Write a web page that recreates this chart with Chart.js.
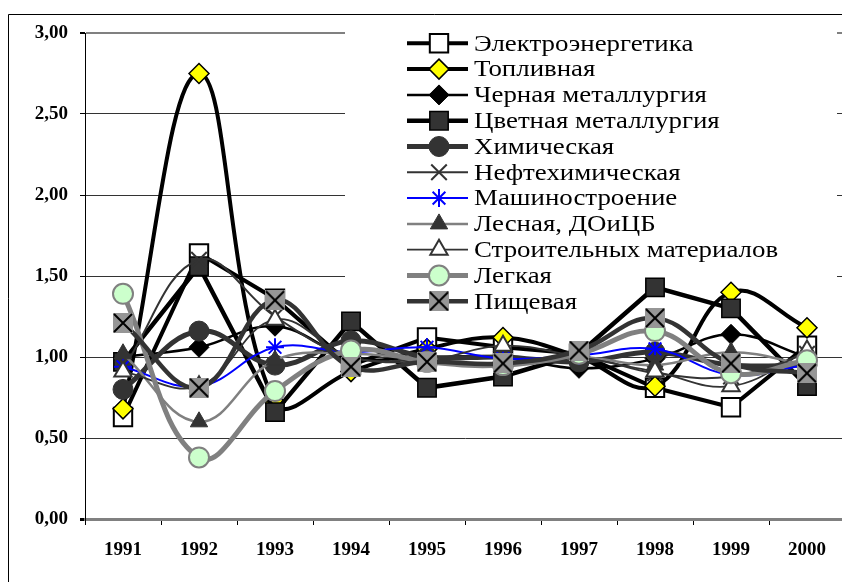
<!DOCTYPE html>
<html><head><meta charset="utf-8">
<script src="https://cdn.jsdelivr.net/npm/chart.js@4.4.0/dist/chart.umd.min.js"></script>
<style>html,body{margin:0;padding:0;overflow:hidden;background:#fff}#wrap{width:860px;height:582px;position:relative}</style>
</head><body><div id="wrap"><canvas id="c"></canvas></div>
<script>
// ---- data ----
const years = ['1991','1992','1993','1994','1995','1996','1997','1998','1999','2000'];
const seriesNames = ['Электроэнергетика','Топливная','Черная металлургия','Цветная металлургия','Химическая','Нефтехимическая','Машиностроение','Лесная, ДОиЦБ','Строительных материалов','Легкая','Пищевая'];
const elektro   = [0.63, 1.64, 1.36, 0.95, 1.12, 1.06, 1.02, 0.81, 0.69, 1.07];
const toplivo   = [0.68, 2.75, 0.72, 0.91, 1.05, 1.12, 1.00, 0.82, 1.40, 1.18];
const chernaya  = [1.00, 1.06, 1.19, 1.00, 1.00, 1.00, 0.93, 0.99, 1.14, 1.00];
const tsvetnaya = [0.97, 1.56, 0.66, 1.22, 0.81, 0.88, 1.02, 1.43, 1.30, 0.82];
const khim      = [0.80, 1.16, 0.95, 1.10, 1.00, 1.00, 0.97, 1.03, 0.95, 0.95];
const neftekhim = [0.93, 1.60, 1.25, 1.00, 0.98, 0.95, 1.00, 0.90, 0.88, 1.02];
const mash      = [0.94, 0.82, 1.06, 1.03, 1.06, 0.99, 1.01, 1.05, 0.89, 0.95];
const lesnaya   = [1.02, 0.60, 0.98, 1.02, 0.98, 0.96, 1.00, 0.95, 1.03, 0.95];
const stroit    = [0.91, 0.82, 1.23, 1.00, 0.98, 1.07, 1.00, 0.91, 0.82, 1.04];
const legkaya   = [1.39, 0.38, 0.79, 1.04, 0.97, 0.95, 1.02, 1.16, 0.90, 0.98];
const pishch    = [1.21, 0.81, 1.35, 0.94, 0.97, 0.96, 1.04, 1.24, 0.96, 0.90];
const yTicks = [0, 0.5, 1, 1.5, 2, 2.5, 3];

// ---- marker for Пищевая: gray square with black X ----
function foodMarker(){
  const c = document.createElement('canvas'); c.width = 20; c.height = 20;
  const g = c.getContext('2d');
  g.fillStyle = '#969696'; g.fillRect(0,0,20,20);
  g.strokeStyle = '#000'; g.lineWidth = 2;
  g.beginPath(); g.moveTo(1,1); g.lineTo(19,19); g.moveTo(19,1); g.lineTo(1,19); g.stroke();
  return c;
}
const foodImg = foodMarker();

const styles = [
  {data: elektro,   line:'#000', lw:4,   ps:'rect',     r:13, bg:'#fff',    bc:'#000', bw:2,   t:0},
  {data: toplivo,   line:'#000', lw:4,   ps:'rectRot',  r:10, bg:'#FFFF00', bc:'#000', bw:1.5, t:0.4},
  {data: chernaya,  line:'#000', lw:2.5, ps:'rectRot',  r:10, bg:'#000',    bc:'#000', bw:1,   t:0.4},
  {data: tsvetnaya, line:'#000', lw:4.5, ps:'rect',     r:13, bg:'#333',    bc:'#000', bw:1.5, t:0},
  {data: khim,      line:'#333', lw:5,   ps:'circle',   r:10, bg:'#333',    bc:'#333', bw:1,   t:0.4},
  {data: neftekhim, line:'#333', lw:2,   ps:'crossRot', r:11, bg:'#333',    bc:'#333', bw:2,   t:0.4},
  {data: mash,      line:'#0000FF', lw:2, ps:'star',    r:9,  bg:'#0000FF', bc:'#0000FF', bw:2, t:0.4},
  {data: lesnaya,   line:'#808080', lw:2.5, ps:'triangle', r:10, bg:'#333', bc:'#333', bw:1,  t:0.4},
  {data: stroit,    line:'#333', lw:1.8, ps:'triangle', r:10, bg:'#fff',    bc:'#333', bw:2,   t:0.4},
  {data: legkaya,   line:'#808080', lw:5, ps:'circle',  r:10, bg:'#CCFFCC', bc:'#808080', bw:2, t:0.4},
  {data: pishch,    line:'#333', lw:4.5, ps:foodImg,    r:10, bg:'#969696', bc:'#000', bw:1,   t:0.4}
];

const datasets = styles.map((s, i) => ({
  label: seriesNames[i], data: s.data,
  borderColor: s.line, borderWidth: s.lw, tension: s.t, fill: false,
  pointStyle: s.ps, pointRadius: s.r, pointHoverRadius: s.r,
  pointBackgroundColor: s.bg, pointBorderColor: s.bc, pointBorderWidth: s.bw,
  order: 10 - i
}));

const framePlugin = {
  id: 'frame',
  beforeDraw(chart){
    const ctx = chart.ctx;
    ctx.save();
    ctx.fillStyle = '#fff'; ctx.fillRect(0,0,chart.width,chart.height);
    ctx.strokeStyle = '#000'; ctx.lineWidth = 1;
    ctx.beginPath(); ctx.moveTo(8.5, chart.height); ctx.lineTo(8.5, 14.5); ctx.lineTo(chart.width, 14.5); ctx.stroke();
    ctx.restore();
  }
};

const legendPlugin = {
  id: 'customLegend',
  beforeDatasetsDraw(chart){
    const ctx = chart.ctx;
    ctx.save();
    ctx.fillStyle = '#fff';
    ctx.fillRect(345, 26, 492, 288);
    const x0 = 407, x1 = 468, xm = 439, tx = 474, y0 = 43.3, dy = 25.8;
    chart.data.datasets.forEach((ds, i) => {
      const y = y0 + i*dy;
      ctx.strokeStyle = ds.borderColor; ctx.lineWidth = ds.borderWidth;
      ctx.beginPath(); ctx.moveTo(x0, y); ctx.lineTo(x1, y); ctx.stroke();
      ctx.fillStyle = ds.pointBackgroundColor; ctx.strokeStyle = ds.pointBorderColor; ctx.lineWidth = ds.pointBorderWidth;
      Chart.helpers.drawPoint(ctx, {pointStyle: ds.pointStyle, rotation: 0, radius: ds.pointRadius, borderWidth: ds.pointBorderWidth}, xm, y);
      ctx.save();
      ctx.translate(tx, y + 1);
      ctx.scale(1.12, 1);
      ctx.fillStyle = '#000';
      ctx.font = '24px "Liberation Serif", "Times New Roman", serif';
      ctx.textBaseline = 'middle'; ctx.textAlign = 'left';
      ctx.fillText(ds.label, 0, 0);
      ctx.restore();
    });
    ctx.restore();
  }
};

const tickFont = {family: '"Liberation Serif", "Times New Roman", serif', size: 19, weight: 'bold'};

new Chart(document.getElementById('c'), {
  type: 'line',
  data: {labels: years, datasets},
  plugins: [framePlugin, legendPlugin],
  options: {
    responsive: true, maintainAspectRatio: false, animation: false,
    events: [],
    layout: {padding: {left: 0, top: 33, right: 11, bottom: 0}},
    plugins: {legend: {display: false}, tooltip: {enabled: false}},
    scales: {
      x: {
        type: 'category', offset: true,
        grid: {display: true, drawOnChartArea: false, drawTicks: true, tickLength: 6, color: '#000', offset: true},
        border: {display: true, color: '#808080', width: 3},
        ticks: {font: tickFont, color: '#000', padding: 14, maxRotation: 0, autoSkip: false},
        afterFit(s){ s.height = 63; }
      },
      y: {
        min: 0, max: 3,
        afterBuildTicks(s){ s.ticks = yTicks.map(v => ({value: v})); },
        ticks: {font: tickFont, color: '#000', padding: 12, callback: v => v.toFixed(2).replace('.', ',')},
        grid: {
          color: c => (c.tick && (c.tick.value === 3 || c.tick.value === 0)) ? '#808080' : '#333',
          lineWidth: c => (c.tick && c.tick.value === 3) ? 2 : (c.tick && c.tick.value === 0 ? 3 : 1),
          tickColor: '#000', tickLength: 5, drawTicks: true
        },
        border: {display: true, color: '#000', width: 1},
        afterFit(s){ s.width = 85; }
      }
    }
  }
});
</script>
</body></html>
